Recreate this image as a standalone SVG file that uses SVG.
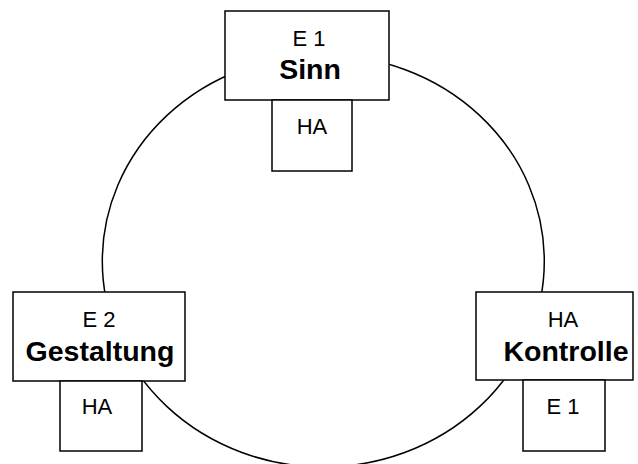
<svg xmlns="http://www.w3.org/2000/svg" width="638" height="464" viewBox="0 0 638 464">
<style>
.b{fill:#fff;stroke:#000;stroke-width:1.5}
.c{fill:none;stroke:#000;stroke-width:1.5}
text{font-family:"Liberation Sans",Arial,sans-serif;text-anchor:middle;fill:#000}
.r{font-size:22px}
.bd{font-size:28.5px;font-weight:bold}
</style>
<rect width="638" height="464" fill="#fff"/>
<g id="connectors">
<ellipse class="c" cx="323.3" cy="261" rx="221" ry="206"/>
</g>
<g id="sinn">
<rect class="b" x="225" y="11" width="164" height="89"/>
<text class="r" x="309" y="46">E 1</text>
<text class="bd" x="310" y="79">Sinn</text>
</g>
<g id="sinn-ha">
<rect class="b" x="272" y="100" width="80" height="71"/>
<text class="r" x="312" y="134">HA</text>
</g>
<g id="gestaltung">
<rect class="b" x="13" y="292" width="172" height="89"/>
<text class="r" x="99" y="327">E 2</text>
<text class="bd" x="100" y="361">Gestaltung</text>
</g>
<g id="gestaltung-ha">
<rect class="b" x="60" y="381" width="82" height="70"/>
<text class="r" x="97" y="414">HA</text>
</g>
<g id="kontrolle">
<rect class="b" x="476" y="292" width="157" height="88"/>
<text class="r" x="563" y="327">HA</text>
<text class="bd" x="566" y="361">Kontrolle</text>
</g>
<g id="kontrolle-e1">
<rect class="b" x="523" y="380" width="82" height="71"/>
<text class="r" x="563" y="414">E 1</text>
</g>
</svg>
